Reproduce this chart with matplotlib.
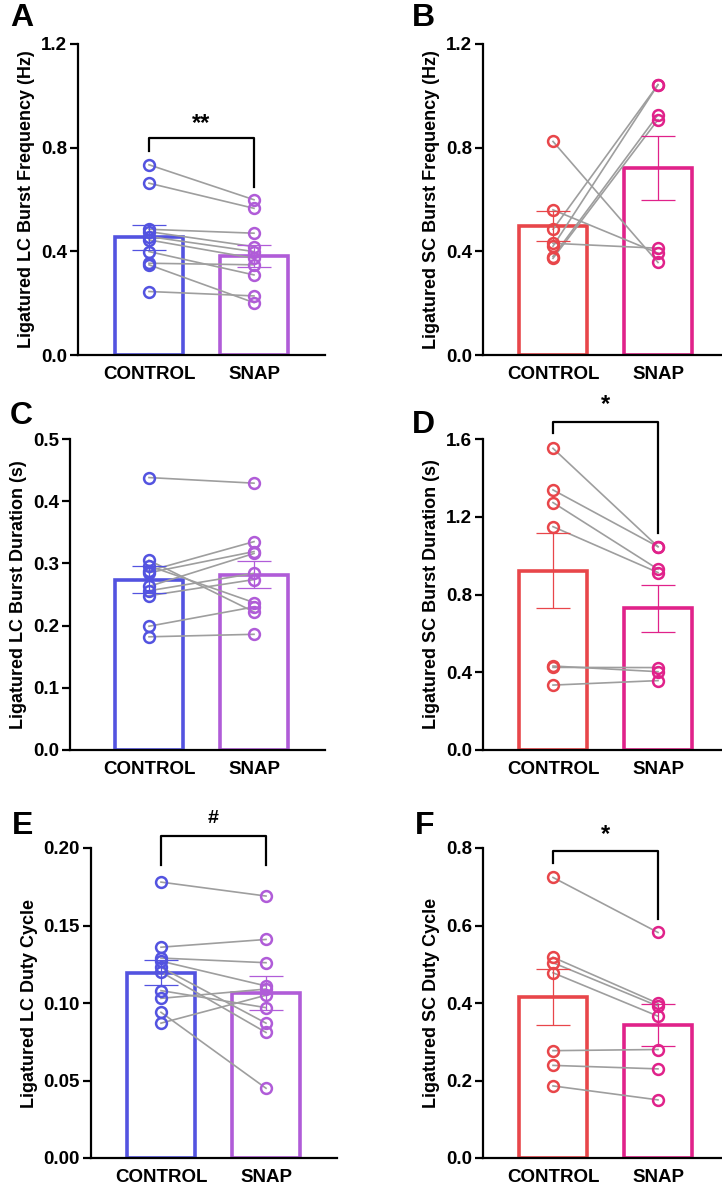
import numpy as np
import matplotlib
matplotlib.use("Agg")
import matplotlib.pyplot as plt

plt.rcParams["font.family"] = ["Liberation Sans", "DejaVu Sans"]
plt.rcParams["font.weight"] = "bold"

# ---------- data ----------
groups = ["CONTROL", "SNAP"]

# A: LC burst frequency (Hz)
a_ctrl = [0.734, 0.663, 0.485, 0.476, 0.457, 0.444, 0.399, 0.354, 0.348, 0.245]
a_snap = [0.599, 0.566, 0.470, 0.418, 0.399, 0.373, 0.309, 0.348, 0.202, 0.228]
a_mean = [0.454, 0.382]
a_sem = [0.047, 0.041]

# B: SC burst frequency (Hz)
b_ctrl = [0.824, 0.560, 0.431, 0.485, 0.420, 0.380, 0.373]
b_snap = [0.357, 0.393, 0.412, 1.043, 1.043, 0.927, 0.908]
b_mean = [0.496, 0.721]
b_sem = [0.058, 0.124]

# C: LC burst duration (s)
c_ctrl = [0.438, 0.305, 0.296, 0.288, 0.285, 0.263, 0.256, 0.248, 0.199, 0.182]
c_snap = [0.429, 0.222, 0.237, 0.335, 0.319, 0.316, 0.284, 0.274, 0.230, 0.186]
c_mean = [0.274, 0.282]
c_sem = [0.022, 0.022]

# D: SC burst duration (s)
d_ctrl = [1.552, 1.338, 1.273, 1.149, 0.432, 0.425, 0.334]
d_snap = [1.046, 1.046, 0.930, 0.913, 0.403, 0.424, 0.357]
d_mean = [0.923, 0.729]
d_sem = [0.195, 0.121]

# E: LC duty cycle
e_ctrl = [0.178, 0.136, 0.129, 0.127, 0.123, 0.120, 0.108, 0.103, 0.094, 0.087]
e_snap = [0.169, 0.141, 0.126, 0.111, 0.087, 0.081, 0.097, 0.109, 0.045, 0.105]
e_mean = [0.1195, 0.1065]
e_sem = [0.008, 0.011]

# F: SC duty cycle
f_ctrl = [0.724, 0.518, 0.504, 0.478, 0.277, 0.239, 0.186]
f_snap = [0.582, 0.399, 0.392, 0.366, 0.280, 0.230, 0.150]
f_mean = [0.416, 0.343]
f_sem = [0.072, 0.054]

LC_COLORS = ["#5353E0", "#B05CD8"]
SC_COLORS = ["#E8464A", "#E0228A"]
PAIR_GRAY = "#9E9E9E"

W, H = 722, 1187


def px_axes(fig, left, right, top, bottom):
    return fig.add_axes([left / W, 1 - bottom / H, (right - left) / W, (bottom - top) / H])


def panel(fig, box, ctrl_px, ctrl, snap, mean, sem, colors, ylim, yticks, fmt,
          ylabel, letter, letter_xy, bracket=None):
    left, right, top, bottom = box
    ax = px_axes(fig, left, right, top, bottom)
    step = 105.0
    x0 = -(ctrl_px - left) / step
    ax.set_xlim(x0, x0 + (right - left) / step)
    ax.set_ylim(*ylim)

    xs = np.arange(2)
    for i in xs:
        ax.bar(i, mean[i], width=0.64, facecolor="white", edgecolor=colors[i],
               linewidth=2.6, zorder=1)
    for c, s in zip(ctrl, snap):
        ax.plot([0, 1], [c, s], color=PAIR_GRAY, lw=1.2, zorder=2)
    ax.plot(np.zeros(len(ctrl)), ctrl, "o", ms=7.8, mfc="none", mec=colors[0],
            mew=1.8, zorder=3)
    ax.plot(np.ones(len(snap)), snap, "o", ms=7.8, mfc="none", mec=colors[1],
            mew=1.8, zorder=3)
    for i in xs:
        ax.errorbar(i, mean[i], yerr=sem[i], color=colors[i], lw=0.9,
                    capsize=12, capthick=0.9, zorder=4)

    for sp in ["top", "right"]:
        ax.spines[sp].set_visible(False)
    for sp in ["left", "bottom"]:
        ax.spines[sp].set_linewidth(1.6)
    ax.set_yticks(yticks)
    ax.set_yticklabels([fmt.format(t) for t in yticks], fontsize=13.5, fontweight="bold")
    ax.set_xticks(xs)
    ax.set_xticklabels(groups, fontsize=13.5, fontweight="bold")
    ax.tick_params(axis="y", length=6, width=1.6, pad=2)
    ax.tick_params(axis="x", length=0, pad=8)
    ax.set_ylabel(ylabel, fontsize=13, fontweight="bold", labelpad=4)

    if bracket is not None:
        yb, yl, yr, txt, ytxt, tsize = bracket
        ax.plot([0, 0, 1, 1], [yl, yb, yb, yr], color="black", lw=1.6,
                clip_on=False, zorder=5)
        ax.text(0.5, ytxt, txt, ha="center", va="center", fontsize=tsize,
                fontweight="bold", clip_on=False)

    fig.text(letter_xy[0] / W, 1 - letter_xy[1] / H, letter, fontsize=23,
             fontweight="bold", ha="left", va="center")
    return ax


fig = plt.figure(figsize=(W / 100, H / 100), dpi=100)

panel(fig, (78, 325, 44, 355), 149, a_ctrl, a_snap, a_mean, a_sem, LC_COLORS,
      (0, 1.2), [0.0, 0.4, 0.8, 1.2], "{:.1f}",
      "Ligatured LC Burst Frequency (Hz)", "A", (10, 18),
      bracket=(0.837, 0.789, 0.650, "**", 0.893, 17))
panel(fig, (483, 722, 44, 355), 553, b_ctrl, b_snap, b_mean, b_sem, SC_COLORS,
      (0, 1.2), [0.0, 0.4, 0.8, 1.2], "{:.1f}",
      "Ligatured SC Burst Frequency (Hz)", "B", (412, 18))
panel(fig, (70, 325, 439, 750), 149, c_ctrl, c_snap, c_mean, c_sem, LC_COLORS,
      (0, 0.5), [0.0, 0.1, 0.2, 0.3, 0.4, 0.5], "{:.1f}",
      "Ligatured LC Burst Duration (s)", "C", (10, 416))
panel(fig, (483, 722, 439, 750), 553, d_ctrl, d_snap, d_mean, d_sem, SC_COLORS,
      (0, 1.6), [0.0, 0.4, 0.8, 1.2, 1.6], "{:.1f}",
      "Ligatured SC Burst Duration (s)", "D", (412, 425),
      bracket=(1.689, 1.63, 1.118, "*", 1.775, 17))
panel(fig, (91, 337, 848, 1158), 161, e_ctrl, e_snap, e_mean, e_sem, LC_COLORS,
      (0, 0.2), [0.0, 0.05, 0.10, 0.15, 0.20], "{:.2f}",
      "Ligatured LC Duty Cycle", "E", (12, 826),
      bracket=(0.2075, 0.189, 0.189, "#", 0.219, 14))
panel(fig, (483, 722, 848, 1158), 553, f_ctrl, f_snap, f_mean, f_sem, SC_COLORS,
      (0, 0.8), [0.0, 0.2, 0.4, 0.6, 0.8], "{:.1f}",
      "Ligatured SC Duty Cycle", "F", (415, 826),
      bracket=(0.791, 0.761, 0.618, "*", 0.835, 17))

fig.savefig("out.png", dpi=100)
